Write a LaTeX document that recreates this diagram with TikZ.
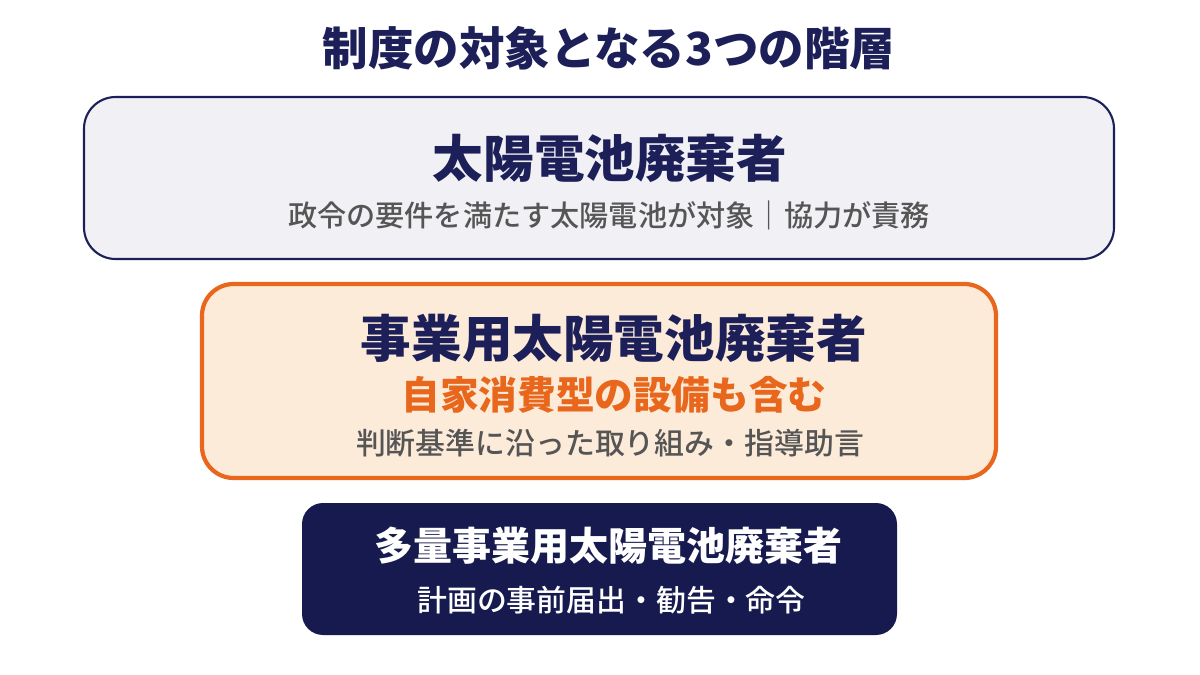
\documentclass[tikz,border=0pt]{standalone}
\usepackage{fontspec}
\setmainfont{Noto Sans CJK JP}
\newfontfamily\jpmed{Noto Sans CJK JP Medium}
\usetikzlibrary{calc}
\definecolor{navy}{HTML}{1C1F58}
\definecolor{deepnavy}{HTML}{161A4E}
\definecolor{paleblue}{HTML}{F1F1F5}
\definecolor{orng}{HTML}{E8671C}
\definecolor{paleorng}{HTML}{FDEBD9}
\definecolor{txtgray}{HTML}{555555}
\tikzset{
	tierbox/.style={rounded corners=9pt,minimum width=#1},
	maintxt/.style={font=\fontsize{14.4}{16}\selectfont\bfseries,text=navy},
	subtxt/.style={font=\jpmed\fontsize{8.3}{10}\selectfont,text=txtgray}
}

\begin{document}
\begin{tikzpicture}
				\useasboundingbox (0,0) rectangle (12,-6.75);
				\fill[white] (0,0) rectangle (12,-6.75);
				\coordinate (T) at (6.09,-0.48);
				\coordinate (B1) at (5.99,-1.78);
				\coordinate (B2) at (5.99,-3.81);
				\coordinate (B3) at (5.995,-5.69);

				\node (title) at (T)[font=\fontsize{12.95}{15}\selectfont\bfseries,text=navy]{制度の対象となる3つの階層};

				\node (box1) at (B1)[tierbox=10.3cm,minimum height=1.62cm,draw=navy,line width=0.6pt,fill=paleblue]{};
				\node (box2) at (B2)[tierbox=7.94cm,minimum height=1.94cm,draw=orng,line width=1.2pt,fill=paleorng]{};
				\node (box3) at (B3)[tierbox=5.95cm,minimum height=1.32cm,rounded corners=6pt,fill=deepnavy]{};

				\node (h1) at ($(B1)+(0.11,0.2)$)[maintxt]{太陽電池廃棄者};
				\node (s1) at ($(B1)+(0.1,-0.37)$)[subtxt]{政令の要件を満たす太陽電池が対象｜協力が責務};

				\node (h2) at ($(B2)+(0.15,0.43)$)[maintxt]{事業用太陽電池廃棄者};
				\node (o2) at ($(B2)+(0.15,-0.14)$)[font=\fontsize{11}{13}\selectfont\bfseries,text=orng]{自家消費型の設備も含む};
				\node (s2) at ($(B2)+(0.11,-0.62)$)[subtxt,font=\jpmed\fontsize{8.5}{10}\selectfont]{判断基準に沿った取り組み・指導助言};

				\node (h3) at ($(B3)+(0.09,0.23)$)[font=\fontsize{11.1}{13}\selectfont\bfseries,text=white]{多量事業用太陽電池廃棄者};
				\node (s3) at ($(B3)+(0.12,-0.31)$)[font=\jpmed\fontsize{8.5}{10}\selectfont,text=white]{計画の事前届出・勧告・命令};
			\end{tikzpicture}
\end{document}
